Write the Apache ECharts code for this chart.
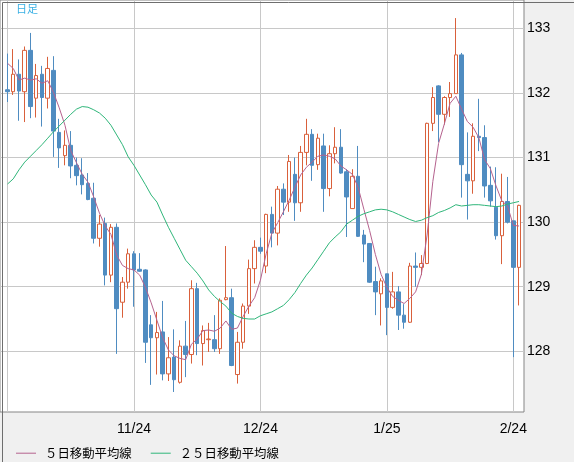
<!DOCTYPE html>
<html>
<head>
<meta charset="utf-8">
<style>
  html, body { margin: 0; padding: 0; background: #f0f0f0; }
  #chart { width: 574px; height: 462px; }
</style>
<script src="https://cdn.jsdelivr.net/npm/echarts@6/dist/echarts.min.js"></script>
</head>
<body>
<div id="chart"></div>
<script>
"use strict";
/** Daily candles, one entry per trading day (index 0 = 10/24) */
const opens = [
    132.05, 132.02, 132.29, 132.02, 132.66, 131.92, 132.29, 131.92, 132.35, 131.39,
    131.03, 131.19, 130.88, 130.73, 130.60, 130.37, 129.75, 129.98, 129.18, 129.92,
    128.76, 129.07, 129.51, 129.27, 129.26, 128.41, 128.21, 128.30, 127.65, 127.91,
    127.52, 128.08, 127.95, 128.97, 128.12, 128.18, 128.18, 128.04, 128.80, 128.83,
    127.64, 128.14, 128.70, 129.28, 129.61, 129.32, 130.12, 129.83, 130.51, 130.31,
    130.74, 130.30, 131.08, 131.36, 130.89, 131.18, 130.52, 131.06, 131.16, 130.78,
    130.21, 130.71, 129.80, 129.67, 129.08, 128.89, 129.20, 128.68, 128.92, 128.56,
    128.45, 129.32, 129.30, 129.36, 131.53, 132.11, 131.67, 131.93, 131.99, 132.59,
    130.74, 130.64, 131.33, 131.31, 130.57, 130.23, 129.79, 130.32, 130.02, 129.30
];
const closes = [
    132.02, 132.29, 132.03, 132.66, 131.79, 132.27, 131.93, 132.38, 131.41, 131.15,
    131.19, 130.87, 130.72, 130.58, 130.35, 129.75, 129.97, 129.18, 129.92, 128.66,
    129.07, 129.51, 129.26, 129.24, 128.14, 128.21, 128.29, 127.65, 127.90, 127.56,
    128.08, 127.95, 128.97, 128.12, 128.32, 128.19, 128.04, 128.79, 128.83, 127.78,
    128.14, 128.70, 129.28, 129.61, 129.55, 130.12, 129.83, 130.51, 130.31, 130.94,
    130.30, 131.08, 131.36, 130.88, 131.30, 130.52, 131.06, 131.16, 130.76, 130.39,
    130.71, 129.78, 129.66, 129.07, 128.92, 129.09, 128.68, 128.92, 128.56, 128.45,
    129.32, 129.30, 129.36, 131.53, 131.93, 131.67, 131.93, 131.99, 132.59, 130.89,
    130.64, 131.33, 131.31, 130.56, 130.33, 129.79, 130.32, 130.00, 129.30, 130.26
];
const lows = [
    131.86, 131.97, 131.57, 131.55, 131.61, 131.62, 131.48, 131.76, 131.01, 130.84,
    130.88, 130.68, 130.57, 130.43, 130.34, 129.67, 129.62, 129.02, 129.07, 127.96,
    128.52, 128.97, 128.69, 129.23, 127.82, 127.48, 127.64, 127.55, 127.54, 127.37,
    127.50, 127.60, 127.81, 127.94, 127.78, 127.99, 127.99, 127.96, 128.79, 127.77,
    127.50, 128.04, 128.58, 129.05, 129.51, 129.21, 129.61, 129.64, 130.11, 130.16,
    130.02, 130.16, 130.88, 130.64, 130.81, 130.16, 130.40, 130.91, 130.75, 129.77,
    130.21, 129.77, 129.38, 129.06, 128.56, 128.40, 128.25, 128.66, 128.33, 128.35,
    128.44, 129.00, 129.18, 129.35, 131.41, 131.24, 131.51, 131.63, 131.99, 130.38,
    130.04, 130.44, 131.10, 130.38, 130.24, 129.73, 129.35, 129.98, 127.91, 128.71
];
const highs = [
    132.61, 132.68, 132.52, 132.72, 132.93, 132.45, 132.42, 132.56, 132.57, 131.60,
    131.42, 131.41, 131.00, 130.99, 130.76, 130.61, 130.11, 130.07, 129.97, 129.98,
    129.15, 129.59, 129.55, 129.52, 129.27, 128.56, 128.61, 128.78, 128.22, 128.34,
    128.17, 128.47, 129.10, 129.06, 128.40, 128.44, 128.56, 128.82, 129.63, 128.97,
    128.30, 128.74, 129.42, 129.72, 129.76, 130.13, 130.24, 130.56, 130.60, 131.04,
    131.00, 131.18, 131.60, 131.44, 131.37, 131.37, 131.19, 131.47, 131.44, 130.82,
    130.82, 131.18, 129.88, 129.67, 129.31, 129.13, 129.20, 129.23, 129.01, 128.73,
    129.37, 129.53, 129.49, 131.54, 132.09, 132.12, 131.95, 132.17, 133.16, 132.62,
    131.39, 131.53, 131.91, 131.50, 130.86, 130.85, 130.75, 130.70, 130.02, 130.27
];
/** Moving averages as drawn on the chart */
const ma5 = [
    132.46, 132.38, 132.20, 132.23, 132.20, 132.22, 132.15, 132.19, 132.01, 131.77,
    131.50, 131.11, 130.92, 130.74, 130.62, 130.39, 130.14, 129.94, 129.81, 129.49,
    129.33, 129.28, 129.26, 129.18, 128.99, 128.75, 128.48, 128.21, 128.02, 127.93,
    127.89, 127.87, 128.11, 128.19, 128.32, 128.33, 128.31, 128.36, 128.47, 128.34,
    128.36, 128.54, 128.70, 128.83, 129.10, 129.51, 129.83, 129.99, 130.16, 130.34,
    130.54, 130.73, 130.85, 130.93, 131.02, 131.04, 131.02, 130.98, 130.87, 130.81,
    130.74, 130.54, 130.20, 129.87, 129.50, 129.19, 128.99, 128.85, 128.79, 128.74,
    128.82, 128.92, 129.19, 129.80, 130.63, 131.22, 131.52, 131.84, 131.95, 131.75,
    131.56, 131.47, 131.31, 130.97, 130.83, 130.56, 130.33, 130.25, 129.95, 129.94
];
const ma25 = [
    130.59, 130.67, 130.81, 130.93, 131.02, 131.11, 131.20, 131.30, 131.40, 131.49,
    131.58, 131.67, 131.75, 131.79, 131.78, 131.74, 131.69, 131.61, 131.50, 131.35,
    131.20, 131.01, 130.88, 130.73, 130.58, 130.42, 130.31, 130.11, 129.92, 129.75,
    129.58, 129.41, 129.31, 129.21, 129.09, 128.95, 128.85, 128.77, 128.70, 128.59,
    128.54, 128.51, 128.50, 128.50, 128.55, 128.58, 128.61, 128.66, 128.71, 128.80,
    128.91, 129.05, 129.18, 129.29, 129.42, 129.55, 129.68, 129.77, 129.85, 129.97,
    130.03, 130.09, 130.13, 130.16, 130.19, 130.20, 130.19, 130.16, 130.12, 130.08,
    130.04, 130.01, 130.03, 130.07, 130.10, 130.15, 130.18, 130.22, 130.27, 130.25,
    130.26, 130.27, 130.27, 130.26, 130.25, 130.24, 130.25, 130.28, 130.30, 130.32
];
/** Month marks on the time axis: day index -> label */
const tickIndex = [22, 44, 66, 88];
const tickLabels = ["11/24", "12/24", "1/25", "2/24"];
const gridIndex = [0, 22, 44, 66, 88];
const priceTicks = [128, 129, 130, 131, 132, 133];
const legendNames = ["\uFF15日移動平均線", "\uFF12\uFF15日移動平均線"];

const upColor = "#d9603b";
const downColor = "#4f8cc1";
const font = "'Liberation Sans', 'Noto Sans CJK JP', sans-serif";

let candles = opens.map((o, i) => [i, o, closes[i], lows[i], highs[i]]);
let ma5Line = ma5.map((v, i) => [i, v]);
let ma25Line = ma25.map((v, i) => [i, v]);

let chart = echarts.init(document.getElementById("chart"), null, { renderer: "canvas" });
chart.setOption({
    animation: false,
    backgroundColor: "#f0f0f0",
    textStyle: { fontFamily: font },
    grid: {
        left: 0, top: 0, right: 50, bottom: 50,
        show: true,
        backgroundColor: "#ffffff",
        borderColor: "#858585",
        borderWidth: 1,
        outerBoundsMode: "none"
    },
    xAxis: {
        type: "value",
        min: -1.305,
        max: 89.86,
        axisLine: { show: false },
        axisTick: { show: false, customValues: gridIndex },
        splitLine: { show: true, lineStyle: { color: "#c8c8c8", width: 1 } },
        axisLabel: {
            customValues: tickIndex,
            margin: 10,
            color: "#000",
            fontSize: 14,
            fontFamily: font,
            formatter: (v) => {
                let k = tickIndex.indexOf(Math.round(v));
                return k < 0 ? "" : tickLabels[k];
            }
        }
    },
    yAxis: {
        type: "value",
        position: "right",
        min: 127.06,
        max: 133.44,
        scale: true,
        axisLine: { show: false },
        axisTick: { show: false, customValues: priceTicks },
        splitLine: { show: true, lineStyle: { color: "#c8c8c8", width: 1 } },
        axisLabel: {
            customValues: priceTicks,
            margin: 3,
            color: "#000",
            fontSize: 14,
            fontFamily: font,
            formatter: (v) => String(Math.round(v))
        }
    },
    legend: {
        left: 11,
        top: 442,
        itemWidth: 20,
        itemHeight: 1,
        itemGap: 19,
        icon: "rect",
        data: legendNames,
        textStyle: {
            color: "#000",
            fontSize: 12.4,
            fontFamily: "'Noto Sans CJK JP', sans-serif",
            padding: [0, 0, 0, 4]
        }
    },
    graphic: [
        {
            type: "text",
            left: 16,
            top: 3,
            style: {
                text: "日足",
                fill: "#3ab0e4",
                fontSize: 11,
                fontFamily: "'Noto Sans CJK JP', sans-serif"
            }
        },
        {
            type: "rect",
            left: 0,
            top: 0,
            shape: { x: 0, y: 0, width: 573, height: 461 },
            style: { fill: "none", stroke: "#6e6e6e", lineWidth: 1 },
            silent: true,
            z: 100
        }
    ],
    series: [
        {
            type: "candlestick",
            data: candles,
            encode: { x: 0, y: [1, 2, 3, 4] },
            barWidth: 4,
            clip: true,
            itemStyle: {
                color: "#ffffff",
                color0: downColor,
                borderColor: upColor,
                borderColor0: downColor,
                borderWidth: 1
            }
        },
        {
            name: legendNames[0],
            type: "line",
            data: ma5Line,
            showSymbol: false,
            symbol: "none",
            color: "#b5628e",
            lineStyle: { width: 1, color: "#b5628e" }
        },
        {
            name: legendNames[1],
            type: "line",
            data: ma25Line,
            showSymbol: false,
            symbol: "none",
            color: "#2fb67a",
            lineStyle: { width: 1, color: "#2fb67a" }
        }
    ]
});
</script>
</body>
</html>
